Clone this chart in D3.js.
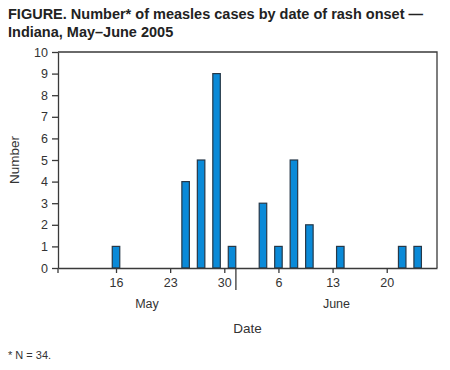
<!DOCTYPE html>
<html>
<head>
<meta charset="utf-8">
<script src="https://cdn.jsdelivr.net/npm/d3@7"></script>
<style>
  body { margin: 0; background: #fff; }
  svg text { font-family: "Liberation Sans", Arial, Helvetica, sans-serif; }
</style>
</head>
<body>
<svg width="450" height="370"></svg>
<script>
// days counted from May 1 (June d = 31 + d)
var caseDays = [16, 25, 27, 29, 31, 35, 37, 39, 41, 45, 53, 55];
var caseCounts = [1, 4, 5, 9, 1, 3, 1, 5, 2, 1, 1, 1];
var tickDays = [16, 23, 30, 37, 44, 51];
var tickLabels = ['16', '23', '30', '6', '13', '20'];
var months = ['May', 'June'];
var monthCenters = [20, 44.5];
var yTicks = d3.range(0, 11);

var svg = d3.select('svg');
var plotLeft = 58, plotRight = 437, plotTop = 52, plotBottom = 268;

var x = d3.scaleLinear().domain([8.5, 57.5]).range([plotLeft, plotRight]);
var y = d3.scaleLinear().domain([0, 10]).range([plotBottom, plotTop]);
var barW = 7.5;
var ink = '#3a3a3a';

// title
svg.append('text').attr('x', 8).attr('y', 19)
    .style('font-size', '14.5px').style('font-weight', 'bold').attr('fill', '#222')
    .text('FIGURE. Number* of measles cases by date of rash onset \u2014');
svg.append('text').attr('x', 8).attr('y', 37)
    .style('font-size', '14.5px').style('font-weight', 'bold').attr('fill', '#222')
    .text('Indiana, May\u2013June 2005');

// bars
svg.selectAll('rect.bar').data(caseDays)
    .enter().append('rect')
    .attr('class', 'bar')
    .attr('x', function(d) { return x(d) - barW / 2; })
    .attr('y', function(d, i) { return y(caseCounts[i]); })
    .attr('width', barW)
    .attr('height', function(d, i) { return plotBottom - y(caseCounts[i]); })
    .attr('fill', '#0a8ad8')
    .attr('stroke', '#263848')
    .attr('stroke-width', 1.2);

// y axis
var yAxis = svg.append('g')
    .attr('transform', 'translate(' + plotLeft + ',0)')
    .call(d3.axisLeft(y).tickValues(yTicks).tickSize(6).tickPadding(4).tickSizeOuter(0));
yAxis.select('.domain').attr('stroke', ink).attr('stroke-width', 1.3);
yAxis.selectAll('line').attr('stroke', ink).attr('stroke-width', 1.3);
yAxis.selectAll('text').style('font-size', '12.5px').attr('fill', '#333')
    .style('font-family', '"Liberation Sans", Arial, sans-serif');

// x axis
var xAxis = svg.append('g')
    .attr('transform', 'translate(0,' + plotBottom + ')')
    .call(d3.axisBottom(x).tickValues(tickDays)
        .tickFormat(function(d, i) { return tickLabels[i]; })
        .tickSize(5).tickPadding(5).tickSizeOuter(0));
xAxis.select('.domain').attr('stroke', ink).attr('stroke-width', 1.3);
xAxis.selectAll('line').attr('stroke', ink).attr('stroke-width', 1.3);
xAxis.selectAll('text').style('font-size', '12.5px').attr('fill', '#333')
    .style('font-family', '"Liberation Sans", Arial, sans-serif');

// tick at left end and month separator
svg.append('line').attr('x1', plotLeft).attr('x2', plotLeft)
    .attr('y1', plotBottom).attr('y2', plotBottom + 5)
    .attr('stroke', ink).attr('stroke-width', 1.3);
svg.append('line').attr('x1', x(31.5)).attr('x2', x(31.5))
    .attr('y1', plotBottom).attr('y2', plotBottom + 22)
    .attr('stroke', ink).attr('stroke-width', 1.3);

// frame top and right
svg.append('path')
    .attr('d', 'M' + plotLeft + ',' + plotTop + 'H' + plotRight + 'V' + plotBottom)
    .attr('fill', 'none').attr('stroke', ink).attr('stroke-width', 1.3);

// month labels
svg.selectAll('text.month').data(months)
    .enter().append('text')
    .attr('class', 'month')
    .attr('x', function(d, i) { return x(monthCenters[i]); })
    .attr('y', 308)
    .attr('text-anchor', 'middle')
    .style('font-size', '12.5px').attr('fill', '#333')
    .text(function(d) { return d; });

// axis titles
svg.append('text').attr('x', x(33)).attr('y', 333).attr('text-anchor', 'middle')
    .style('font-size', '13.5px').attr('fill', '#333').text('Date');
svg.append('text')
    .attr('transform', 'translate(19,' + ((plotTop + plotBottom) / 2) + ') rotate(-90)')
    .attr('text-anchor', 'middle')
    .style('font-size', '13.5px').attr('fill', '#333').text('Number');

// footnote
svg.append('text').attr('x', 8).attr('y', 359)
    .style('font-size', '11px').attr('fill', '#333').text('* N = 34.');
</script>
</body>
</html>
